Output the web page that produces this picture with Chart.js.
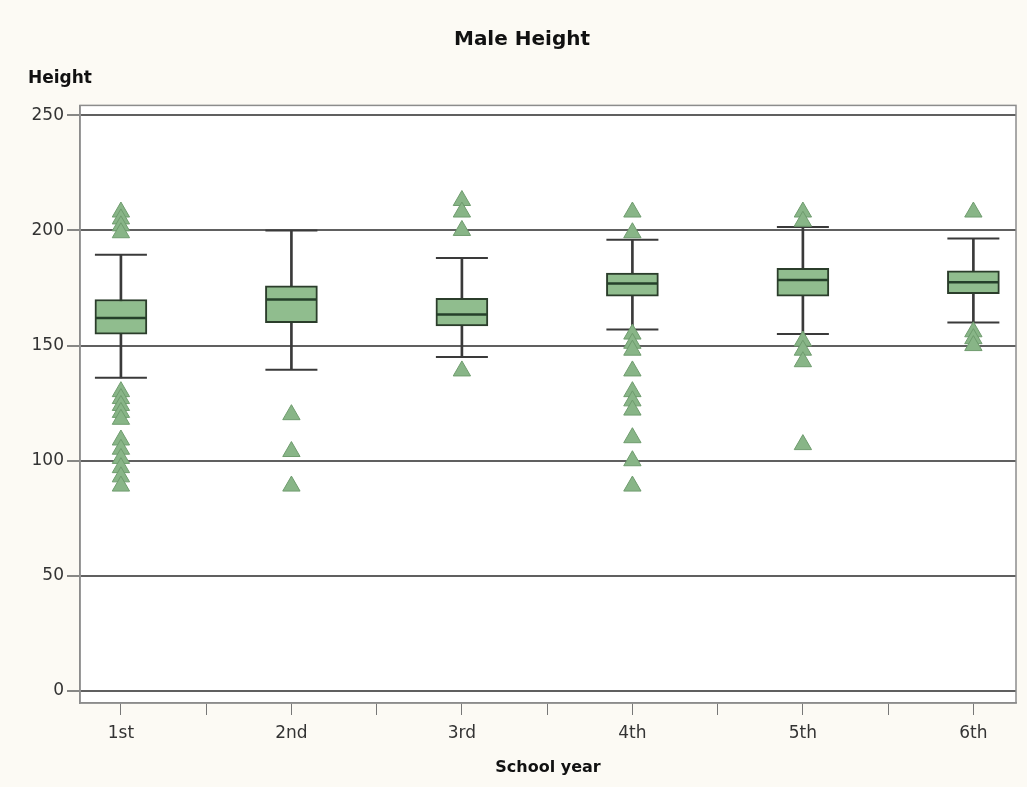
<!DOCTYPE html>
<html>
<head>
<meta charset="utf-8">
<title>Male Height</title>
<script src="https://cdn.jsdelivr.net/npm/chart.js@4.4.1/dist/chart.umd.min.js"></script>
<style>
  html, body { margin: 0; padding: 0; background: #fcfaf4; }
  #wrap { width: 1027px; height: 787px; position: relative; }
</style>
</head>
<body>
<div id="wrap"><canvas id="chart"></canvas></div>
<script>
// box plot stats per school year
const years = ['1st', '2nd', '3rd', '4th', '5th', '6th'];
const whiskerLow  = [136, 139.5, 145, 157, 155, 160];
const q1          = [155, 160, 158.5, 171.5, 171.5, 172.5];
const medians     = [162, 170, 163.5, 177, 178.5, 177.5];
const q3          = [170, 176, 170.5, 181.5, 183.5, 182.5];
const whiskerHigh = [189.5, 200, 188, 196, 201.5, 196.5];
const outliers = [
  [208, 205, 202, 199, 130, 127, 124, 121, 118, 109, 105, 101, 97, 93, 89],
  [120, 104, 89],
  [213, 208, 200, 139],
  [208, 199, 155, 151, 148, 139, 130, 126, 122, 110, 100, 89],
  [208, 204, 152, 148, 143, 107],
  [208, 156, 153, 150]
];
const yTicks = [0, 50, 100, 150, 200, 250];

const BOX_W = 52;
const FONT = "'DejaVu Sans', sans-serif";

const pos = years.map((y, i) => i + 1);

const whiskerData = pos.map((x, i) => ({x, y: [whiskerLow[i], whiskerHigh[i]]}));
const boxData = pos.map((x, i) => ({x, y: [q1[i], q3[i]]}));
const medianData = pos.map((x, i) => ({x, y: medians[i]}));
const capData = [];
pos.forEach((x, i) => { capData.push({x, y: whiskerLow[i]}); capData.push({x, y: whiskerHigh[i]}); });
const outlierData = [];
outliers.forEach((list, i) => list.forEach(v => outlierData.push({x: pos[i], y: v})));

// white plot area + grey frame
const plotFrame = {
  id: 'plotFrame',
  beforeDraw(chart) {
    const {ctx, chartArea: a} = chart;
    ctx.save();
    ctx.fillStyle = '#ffffff';
    ctx.fillRect(a.left, a.top, a.right - a.left, a.bottom - a.top);
    ctx.restore();
  },
  afterDraw(chart) {
    const {ctx, chartArea: a} = chart;
    ctx.save();
    ctx.strokeStyle = '#8c8c8c';
    ctx.lineWidth = 1.5;
    ctx.strokeRect(a.left, a.top, a.right - a.left, a.bottom - a.top);
    ctx.restore();
  }
};

new Chart(document.getElementById('chart'), {
  type: 'bar',
  data: {
    datasets: [
      { type: 'scatter', data: outlierData, order: 0,
        pointStyle: 'triangle', pointRadius: 10,
        pointBackgroundColor: '#88b587', pointBorderColor: '#6f9c6e', pointBorderWidth: 1 },
      { type: 'scatter', data: capData, order: 1,
        pointStyle: 'line', pointRadius: BOX_W / 2,
        pointBorderColor: '#3a3a3a', pointBorderWidth: 2 },
      { type: 'scatter', data: medianData, order: 2,
        pointStyle: 'line', pointRadius: BOX_W / 2 - 1,
        pointBorderColor: '#25402a', pointBorderWidth: 2.5 },
      { type: 'bar', data: boxData, order: 3, grouped: false,
        barThickness: BOX_W, backgroundColor: '#90bd8e',
        borderColor: '#2b3d2b', borderWidth: 2, borderSkipped: false },
      { type: 'bar', data: whiskerData, order: 4, grouped: false,
        barThickness: 2, backgroundColor: '#3a3a3a', borderWidth: 0 }
    ]
  },
  options: {
    responsive: true,
    maintainAspectRatio: false,
    animation: false,
    devicePixelRatio: 1,
    layout: { autoPadding: false, padding: { left: 28, right: 11, top: 12, bottom: 0 } },
    plugins: {
      legend: { display: false },
      tooltip: { enabled: false },
      title: {
        display: true, text: 'Male Height', color: '#111',
        font: { family: FONT, size: 20, weight: 'bold' },
        padding: { top: 16, bottom: 16 }
      },
      subtitle: {
        display: true, text: 'Height', align: 'start', color: '#111',
        font: { family: FONT, size: 17, weight: 'bold' },
        padding: { top: 0, bottom: 17 }
      }
    },
    scales: {
      x: {
        type: 'linear', min: 0.76, max: 6.25, offset: false,
        afterBuildTicks: s => {
          const t = [];
          for (let v = 1; v <= 6; v += 0.5) t.push({value: v});
          s.ticks = t;
        },
        afterFit: s => { s.height = 84; s.paddingLeft = 0; s.paddingRight = 0; },
        ticks: {
          autoSkip: false, maxRotation: 0, padding: 8, color: '#333',
          font: { family: FONT, size: 17 },
          callback: v => Number.isInteger(v) ? years[v - 1] : ''
        },
        grid: { drawOnChartArea: false, offset: false, tickLength: 12, color: '#777', lineWidth: 1 },
        border: { display: true, color: '#8c8c8c', width: 1.5 },
        title: {
          display: true, text: 'School year', color: '#111',
          font: { family: FONT, size: 16, weight: 'bold' },
          padding: { top: 4, bottom: 10 }
        }
      },
      y: {
        min: -5.2, max: 254.3,
        afterBuildTicks: s => { s.ticks = yTicks.map(v => ({value: v})); },
        afterFit: s => { s.width = 52; s.paddingTop = 0; s.paddingBottom = 0; },
        ticks: {
          padding: 3, color: '#333',
          font: { family: FONT, size: 17 }
        },
        grid: { color: '#606060', lineWidth: 2, tickLength: 13, tickColor: '#606060', tickWidth: 1.5 },
        border: { display: true, color: '#8c8c8c', width: 1.5 }
      }
    }
  },
  plugins: [plotFrame]
});
</script>
</body>
</html>
